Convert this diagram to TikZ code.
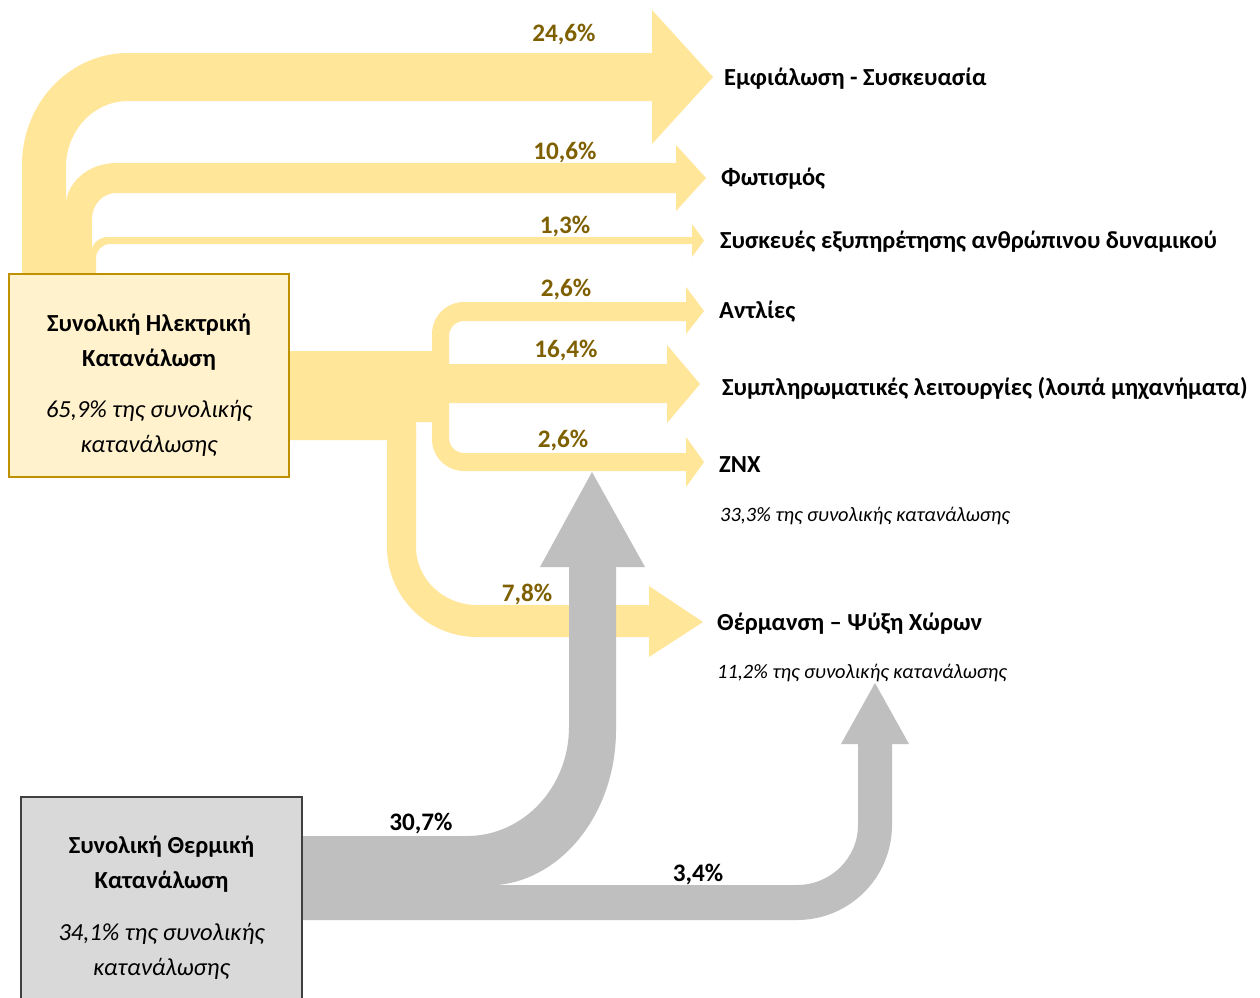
\documentclass[tikz,border=0pt]{standalone}
\usepackage{fontspec}
\setmainfont{Carlito}
\definecolor{flowY}{HTML}{FFE699}
\definecolor{boxY}{HTML}{FFF2CC}
\definecolor{boxYb}{HTML}{BF9000}
\definecolor{pctY}{HTML}{7F6000}
\definecolor{flowG}{HTML}{BFBFBF}
\definecolor{boxG}{HTML}{D9D9D9}
\definecolor{boxGb}{HTML}{404040}
\begin{document}
\begin{tikzpicture}[x=1pt,y=-1pt,
  ebox/.style={draw=boxYb,fill=boxY,line width=1.8pt,inner sep=0pt},
  gbox/.style={draw=boxGb,fill=boxG,line width=1.5pt,inner sep=0pt},
  lbl/.style={anchor=base west,inner sep=0pt,font=\bfseries\fontsize{24.5}{28}\selectfont},
  sub/.style={anchor=base west,inner sep=0pt,font=\itshape\fontsize{20.4}{24}\selectfont},
  pct/.style={anchor=base,inner sep=0pt,text=pctY,font=\bfseries\fontsize{25.2}{29}\selectfont},
  pctk/.style={anchor=base,inner sep=0pt,text=black,font=\bfseries\fontsize{25.2}{29}\selectfont},
  btxt/.style={anchor=base,inner sep=0pt,font=\bfseries\fontsize{24.5}{28}\selectfont},
  itxt/.style={anchor=base,inner sep=0pt,font=\itshape\fontsize{24.5}{28}\selectfont}]
\useasboundingbox (0,0) rectangle (1260,997);
\fill[white] (0,0) rectangle (1260,997);
% ---- yellow flows
\fill[flowY] (22,276) -- (22,165) .. controls (22,103.1) and (69.5,53) .. (128,53) -- (652,53) -- (652,10) -- (713,77) -- (652,144) -- (652,101) -- (128,101) .. controls (93.8,101) and (66,130.5) .. (66,167) -- (66,276) -- cycle;
\fill[flowY] (65.6,276) -- (65.6,207) .. controls (65.6,182.7) and (88.4,163) .. (116,163) -- (676,163) -- (676,145) -- (706,178) -- (676,211) -- (676,193) -- (116,193) .. controls (102.7,193) and (92,204.6) .. (92,219) -- (92,276) -- cycle;
\fill[flowY] (91.6,276) -- (91.6,252) .. controls (91.6,243.7) and (99.2,237) .. (108,237) -- (692,237) -- (692,224) -- (704,240.5) -- (692,257) -- (692,244) -- (110,244) .. controls (102.3,244) and (96,250.3) .. (96,258) -- (96,276) -- cycle;
\fill[flowY] (288,351) -- (432.5,351) -- (432.5,422) -- (416,422) -- (416,440) -- (288,440) -- cycle;
\fill[flowY] (387,430) -- (387,547) .. controls (387,596.7) and (427.3,637) .. (477,637) -- (649,637) -- (649,657) -- (703,622) -- (649,586) -- (649,605) -- (477,605) .. controls (443.3,605) and (416,579) .. (416,547) -- (416,430) -- cycle;
\fill[flowY] (432,380) -- (432,334) .. controls (432,316.3) and (446.3,302) .. (464,302) -- (686,302) -- (686,287) -- (704,311) -- (686,334) -- (686,321) -- (464,321) .. controls (455.7,321) and (449,327.7) .. (449,336) -- (449,438) .. controls (449,446.3) and (455.7,453) .. (464,453) -- (686,453) -- (686,437) -- (704,462) -- (686,487) -- (686,471) -- (464,471) .. controls (446.3,471) and (432,456.7) .. (432,439) -- cycle;
\fill[flowY] (445,364) -- (667,364) -- (667,345) -- (700,384) -- (667,423) -- (667,403) -- (445,403) -- cycle;
% ---- grey flows
\fill[flowG] (300,885) -- (797,885) .. controls (830.7,885) and (858,858.1) .. (858,825) -- (858,744) -- (841,744) -- (875,683) -- (909,744) -- (892,744) -- (892,825) .. controls (892,877.5) and (849.5,920) .. (797,920) -- (300,920) -- cycle;
\fill[flowG] (300,836) -- (467,836) .. controls (523.3,836) and (569,787.2) .. (569,727) -- (569,567) -- (540,567) -- (592,472) -- (645,567) -- (616,567) -- (616,730) .. controls (616,815.6) and (558.2,885.5) .. (487,885.5) -- (300,885.5) -- cycle;
% ---- boxes
\node[ebox,minimum width=280pt,minimum height=203pt] (elec) at (149,375.5) {};
\node[gbox,minimum width=281pt,minimum height=212pt] (therm) at (161.5,903) {};
\node[btxt] (e1) at (149,331) {Συνολική Ηλεκτρική};
\node[btxt] (e2) at (149,366) {Κατανάλωση};
\node[itxt] (e3) at (149,417) {65,9\% της συνολικής};
\node[itxt] (e4) at (149,452) {κατανάλωσης};
\node[btxt] (g1) at (161.5,853) {Συνολική Θερμική};
\node[btxt] (g2) at (161.5,888) {Κατανάλωση};
\node[itxt] (g3) at (161.5,940) {34,1\% της συνολικής};
\node[itxt] (g4) at (161.5,975) {κατανάλωσης};
% ---- percentages
\node[pct] (p1) at (564,41) {24,6\%};
\node[pct] (p2) at (565,159) {10,6\%};
\node[pct] (p3) at (565,233) {1,3\%};
\node[pct] (p4) at (566,296) {2,6\%};
\node[pct] (p5) at (566,357) {16,4\%};
\node[pct] (p6) at (563,447) {2,6\%};
\node[pct] (p7) at (527,601) {7,8\%};
\node[pctk] (p8) at (421,830) {30,7\%};
\node[pctk] (p9) at (698,881) {3,4\%};
% ---- targets
\node[lbl] (l1) at (724,85) {Εμφιάλωση - Συσκευασία};
\node[lbl] (l2) at (721,185) {Φωτισμός};
\node[lbl] (l3) at (720,248) {Συσκευές εξυπηρέτησης ανθρώπινου δυναμικού};
\node[lbl] (l4) at (719,318) {Αντλίες};
\node[lbl] (l5) at (722,395) {Συμπληρωματικές λειτουργίες (λοιπά μηχανήματα)};
\node[lbl] (l6) at (719,472) {ZNX};
\node[sub] (s6) at (720,521) {33,3\% της συνολικής κατανάλωσης};
\node[lbl] (l7) at (717,630) {Θέρμανση – Ψύξη Χώρων};
\node[sub] (s7) at (717,678) {11,2\% της συνολικής κατανάλωσης};
\end{tikzpicture}
\end{document}
